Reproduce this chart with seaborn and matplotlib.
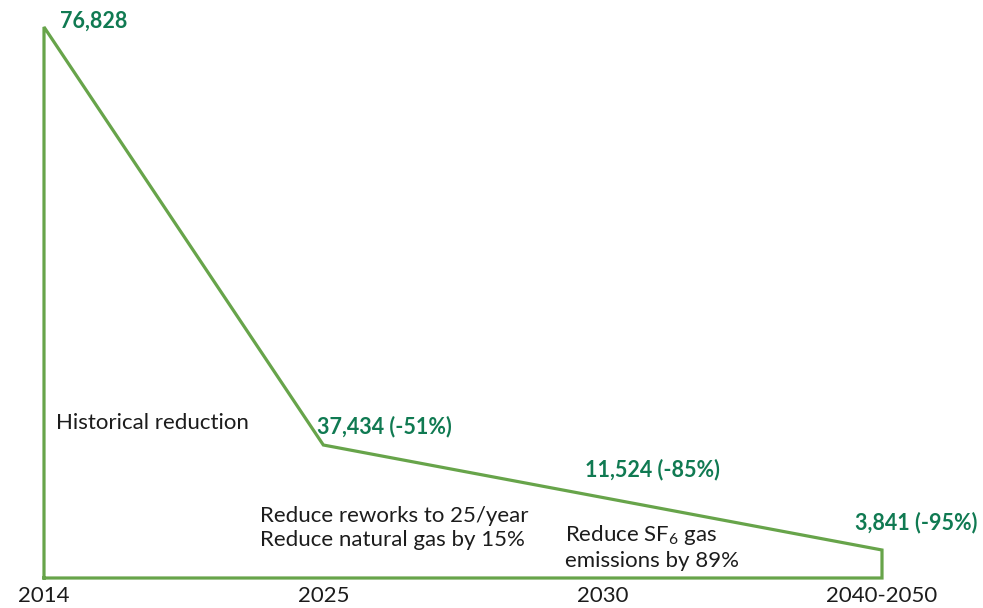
import numpy as np
import pandas as pd
import matplotlib
matplotlib.use("Agg")
import matplotlib.pyplot as plt
import matplotlib.transforms as mtransforms
import seaborn as sns

# Emission milestones (tCO2e)
categories = ["2014", "2025", "2030", "2040-2050"]
milestone_years = ["2014", "2025", "2040-2050"]
milestone_values = [76828, 37434, 3841]
target_2030 = 11524
reduction_pct = {"2025": -51, "2030": -85, "2040-2050": -95}

historical_note = "Historical reduction"
note_2025 = ["Reduce reworks to 25/year", "Reduce natural gas by 15%"]
note_2030 = ["Reduce SF$_6$ gas", "emissions by 89%"]

LINE = "#67a44a"
LABEL = "#107a52"
TEXT = "#1c1c1c"

sns.set_theme(style="white")
plt.rcParams["font.family"] = ["Lato", "DejaVu Sans"]
plt.rcParams["mathtext.fontset"] = "custom"
plt.rcParams["mathtext.rm"] = "Lato"

fig = plt.figure(figsize=(9.83, 6.08), dpi=100)
W, H = 983, 608
ax = fig.add_axes([44 / W, 30 / H, 838 / W, 551 / H])

# Schematic (non-proportional) vertical axis: milestones sit at fixed heights
knot_vals = np.array([0] + sorted(milestone_values))
knot_pos = np.array([0.0, 28.0, 133.0, 551.0]) / 551.0


def fwd(v):
    return np.interp(v, knot_vals, knot_pos)


def inv(h):
    return np.interp(h, knot_pos, knot_vals)


ax.set_yscale("function", functions=(fwd, inv))

pos = {c: i for i, c in enumerate(categories)}
xs = [pos[c] for c in milestone_years]

# Closed outline: baseline -> milestones -> baseline
path_x = [xs[0]] + xs + [xs[-1], xs[0]]
path_y = [0] + milestone_values + [0, 0]
df = pd.DataFrame({"x": path_x, "y": path_y})
sns.lineplot(data=df, x="x", y="y", sort=False, estimator=None, ax=ax,
             color=LINE, linewidth=2.3, clip_on=False)
for ln in ax.lines:
    ln.set_solid_joinstyle("miter")
    ln.set_solid_capstyle("projecting")

ax.set_xlim(0, 3)
ax.set_ylim(0, max(milestone_values))
ax.set_xticks(range(len(categories)))
ax.set_xticklabels(categories)
ax.tick_params(axis="x", length=0, pad=6, labelsize=16, labelcolor=TEXT)
ax.set_yticks([])
ax.set_xlabel("")
ax.set_ylabel("")
for s in ax.spines.values():
    s.set_visible(False)

PX = 0.72  # points per pixel


def value_label(x, y, txt, dx, dy):
    ax.annotate(txt, xy=(x, y), xytext=(dx * PX, dy * PX), textcoords="offset points",
                ha="left", va="center", fontsize=15.5, fontweight="bold", color=LABEL,
                annotation_clip=False)


value_label(xs[0], milestone_values[0], f"{milestone_values[0]:,}", 16, 6)
value_label(xs[1], milestone_values[1],
            f"{milestone_values[1]:,} ({reduction_pct['2025']}%)", -6, 18)
value_label(pos["2030"], target_2030,
            f"{target_2030:,} ({reduction_pct['2030']}%)", -18, 56)
value_label(xs[2], milestone_values[2],
            f"{milestone_values[2]:,} ({reduction_pct['2040-2050']}%)", -27, 27)

blend = mtransforms.blended_transform_factory(ax.transData, ax.transAxes)
note_kw = dict(transform=blend, ha="left", va="center", fontsize=16, color=TEXT,
               linespacing=1.25, clip_on=False)
ax.text(12 / 279.33, (578 - 423) / 551, historical_note, **note_kw)
ax.text(1 - 63 / 279.33, (578 - 528) / 551, "\n".join(note_2025), **note_kw)
ax.text(2 - 38 / 279.33, (578 - 547) / 551, "\n".join(note_2030), **note_kw)

fig.savefig("out.png", dpi=100)
